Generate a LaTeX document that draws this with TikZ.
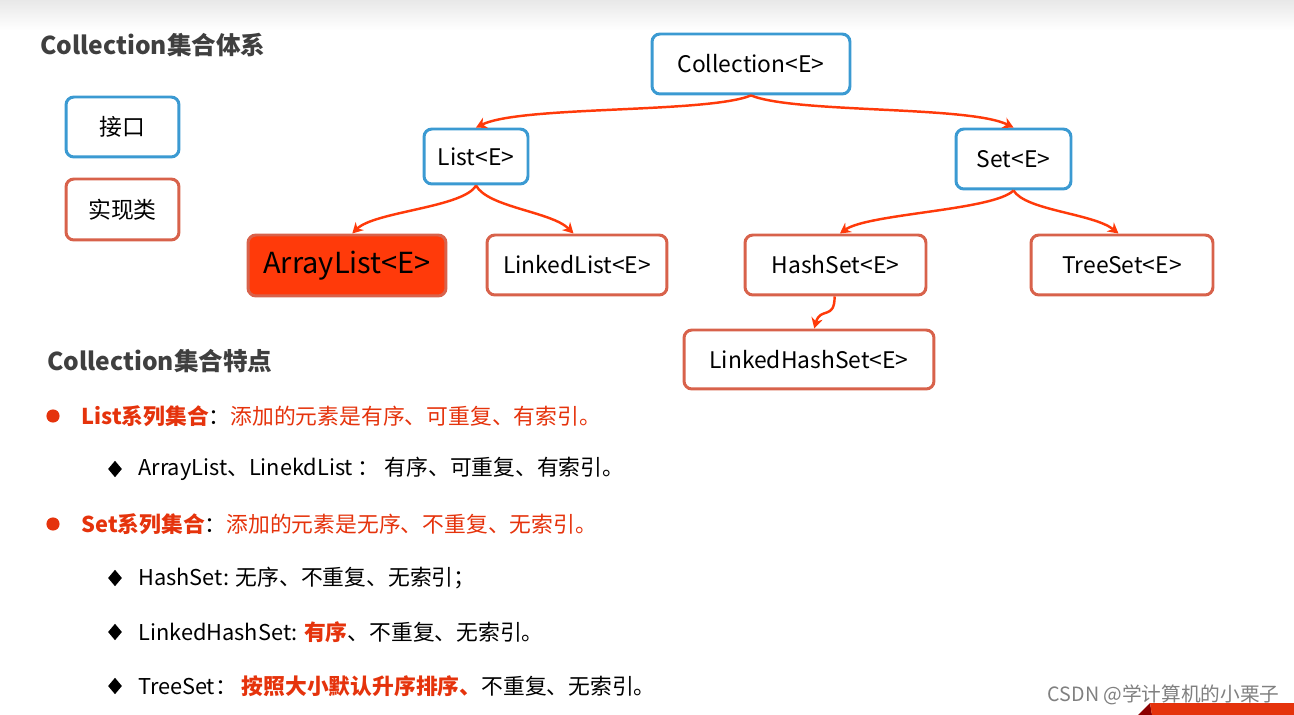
\documentclass[tikz,border=0pt]{standalone}
\usepackage{fontspec}
\setmainfont{Noto Sans CJK SC}
\usetikzlibrary{arrows.meta,shapes.geometric}
\definecolor{ifblue}{HTML}{3B9AD2}
\definecolor{implred}{HTML}{D8624B}
\definecolor{arrred}{HTML}{FF3A0A}
\definecolor{hired}{HTML}{E5330C}
\definecolor{titlegray}{HTML}{3F3F3F}
\tikzset{
  box/.style={line width=1.7pt,rounded corners=4.5pt,fill=white,inner sep=0pt,
    minimum height=1.2cm,font=\fontsize{13}{16}\selectfont},
  iface/.style={box,draw=ifblue},
  impl/.style={box,draw=implred},
  link/.style={arrred,line width=1.4pt,-{Stealth[length=6pt,width=6.5pt]}},
  heading/.style={anchor=west,inner sep=0pt,text=titlegray,font=\fontsize{14}{16}\selectfont\bfseries},
  item/.style={anchor=west,inner sep=0pt,font=\fontsize{12.4}{15}\selectfont},
  dot/.style={circle,fill=hired,inner sep=0pt,minimum size=7.5pt},
  gem/.style={diamond,fill=black,inner sep=0pt,minimum width=8pt,minimum height=9.5pt}
}
\begin{document}
\begin{tikzpicture}[x=0.02cm,y=-0.02cm]
\useasboundingbox (0,0) rectangle (1294,715);
\shade[top color=black!9,bottom color=white] (0,0) rectangle (1294,30);

\node[heading] (title) at (40,45) {Collection集合体系};
\node[iface,minimum width=2.26cm] (legif) at (122.5,127) {接口};
\node[impl,minimum width=2.26cm,minimum height=1.22cm] (legimpl) at (122.5,209.5) {实现类};

\node[iface,minimum width=3.96cm] (coll) at (751,64) {Collection<E>};
\node[iface,minimum width=2.08cm,minimum height=1.1cm] (list) at (476,156.5) {List<E>};
\node[iface,minimum width=2.3cm] (set) at (1013.5,159) {Set<E>};
\node[impl,fill=arrred,draw=implred,minimum width=3.96cm,minimum height=1.22cm,
  font=\fontsize{16.5}{19}\selectfont] (alist) at (347,265.5) {ArrayList<E>};
\node[impl,minimum width=3.6cm] (llist) at (577,265) {LinkedList<E>};
\node[impl,minimum width=3.62cm] (hset) at (835.5,265) {HashSet<E>};
\node[impl,minimum width=3.64cm] (tset) at (1122,265) {TreeSet<E>};
\node[impl,minimum width=5cm,minimum height=1.18cm] (lhset) at (809,359.5) {LinkedHashSet<E>};

\draw[link] (coll.south) .. controls +(-45,18) and +(45,-22) .. (list.north);
\draw[link] (coll.south) .. controls +(45,18) and +(-45,-22) .. (set.north);
\draw[link] (list.south) .. controls +(-12,22) and +(22,-22) .. ([xshift=3]alist.north);
\draw[link] (list.south) .. controls +(12,22) and +(-22,-22) .. ([xshift=-2]llist.north);
\draw[link] (set.south) .. controls +(-20,20) and +(28,-20) .. ([xshift=2.5]hset.north);
\draw[link] (set.south) .. controls +(12,20) and +(-25,-20) .. ([xshift=-2]tset.north);
\draw[link] ([xshift=-0.5]hset.south) .. controls +(0,24) and +(6,-22) .. ([xshift=3]lhset.north);

\node[heading] (feat) at (47,361) {Collection集合特点};
\node[dot] (b1) at (53,416) {};
\node[item] (t1) at (81,416) {\textcolor{hired}{\bfseries List系列集合}：\textcolor{hired}{添加的元素是有序、可重复、有索引。}};
\node[gem] (d1) at (115,469) {};
\node[item] (t2) at (138,469) {ArrayList、LinekdList ： 有序、可重复、有索引。};
\node[dot] (b2) at (53,524) {};
\node[item] (t3) at (81,524) {\textcolor{hired}{\bfseries Set系列集合}：\textcolor{hired}{添加的元素是无序、不重复、无索引。}};
\node[gem] (d2) at (115,578) {};
\node[item] (t4) at (138,578) {HashSet: 无序、不重复、无索引；};
\node[gem] (d3) at (115,632) {};
\node[item] (t5) at (138,632) {LinkedHashSet: \textcolor{hired}{\bfseries 有序}、不重复、无索引。};
\node[gem] (d4) at (115,686) {};
\node[item] (t6) at (138,686) {TreeSet： \textcolor{hired}{\bfseries 按照大小默认升序排序、}不重复、无索引。};

\fill[red!55!black] (1138,715) -- (1150,703) -- (1152,715) -- cycle;
\fill[hired] (1150,703) -- (1294,703) -- (1294,715) -- (1152,715) -- cycle;
\node[anchor=east,inner sep=0pt,text=black!50,font=\fontsize{11.2}{14}\selectfont] (mark) at (1280,695) {CSDN @学计算机的小栗子};
\end{tikzpicture}
\end{document}
